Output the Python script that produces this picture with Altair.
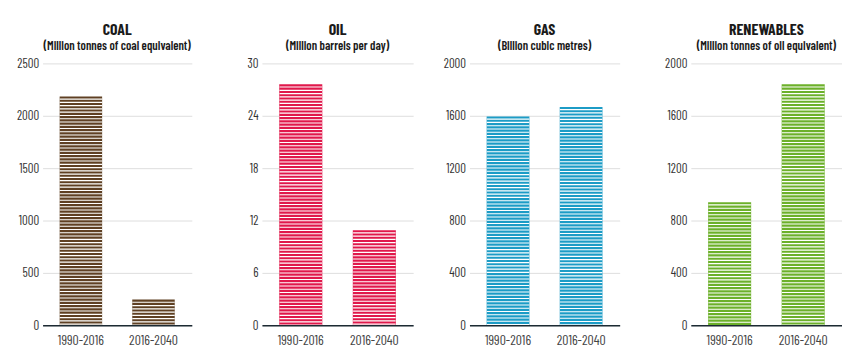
import altair as alt
import pandas as pd

FONT = "'Barlow Condensed', 'Asap Condensed', 'DejaVu Sans Condensed', sans-serif"

fuels = ["COAL", "OIL", "GAS", "RENEWABLES"]
units = [
    "(Million tonnes of coal equivalent)",
    "(Million barrels per day)",
    "(Billion cubic metres)",
    "(Million tonnes of oil equivalent)",
]
periods = ["1990-2016", "2016-2040"]
coal = [2185, 245]
oil = [27.6, 10.9]
gas = [1595, 1668]
renewables = [940, 1840]
axis_max = [2500, 30, 2000, 2000]
axis_ticks = [
    [0, 500, 1000, 1500, 2000, 2500],
    [0, 6, 12, 18, 24, 30],
    [0, 400, 800, 1200, 1600, 2000],
    [0, 400, 800, 1200, 1600, 2000],
]
colors = ["#5f4023", "#e0184b", "#1c9cc6", "#6cb02a"]

series = [coal, oil, gas, renewables]
panel_widths = [151, 153, 152, 153]
axis_extents = [30, 46, 32, 47]

panels = []
for fuel, unit, vals, m, ticks, col, w, ext in zip(
    fuels, units, series, axis_max, axis_ticks, colors, panel_widths, axis_extents
):
    df = pd.DataFrame({"period": periods, "value": vals})
    base = alt.Chart(df).encode(
        x=alt.X(
            "period:N",
            sort=periods,
            scale=alt.Scale(paddingInner=0.415, paddingOuter=0.235),
            axis=alt.Axis(
                title=None,
                labelAngle=0,
                ticks=False,
                domainColor="#1c2a33",
                domainWidth=1.5,
                labelColor="#444444",
                labelFontSize=14,
                labelPadding=8,
                labelFont=FONT,
                zindex=1,
            ),
        ),
        y=alt.Y(
            "value:Q",
            scale=alt.Scale(domain=[0, m], nice=False),
            axis=alt.Axis(
                title=None,
                values=ticks,
                domain=False,
                ticks=False,
                tickSize=0,
                grid=True,
                gridColor="#dddddd",
                labelColor="#333333",
                labelFontSize=13,
                labelPadding=4,
                minExtent=ext,
                maxExtent=ext,
                labelFont=FONT,
                format="d",
            ),
        ),
    )
    bars = base.mark_bar(color=col)
    stripes = base.mark_rule(
        color="white", strokeWidth=43, strokeDash=[1.1, 2.2], strokeDashOffset=1.1
    ).encode(y2=alt.datum(0))
    panel = alt.layer(bars, stripes).properties(
        width=w,
        height=265,
        title=alt.TitleParams(
            text=fuel,
            subtitle=unit,
            anchor="middle",
            frame="group",
            font=FONT,
            fontSize=16,
            fontWeight="bold",
            color="#1a1a1a",
            subtitleFont=FONT,
            subtitleFontSize=12.5,
            subtitleFontWeight=600,
            subtitleColor="#1a1a1a",
            subtitlePadding=2,
            offset=5,
        ),
    )
    panels.append(panel)

chart = (
    alt.hconcat(*panels, spacing=25)
    .properties(padding={"left": 5, "right": 0, "top": 12, "bottom": 5})
    .configure_view(stroke=None)
)

chart.save("out.html", embed_options={"renderer": "svg", "actions": False})
